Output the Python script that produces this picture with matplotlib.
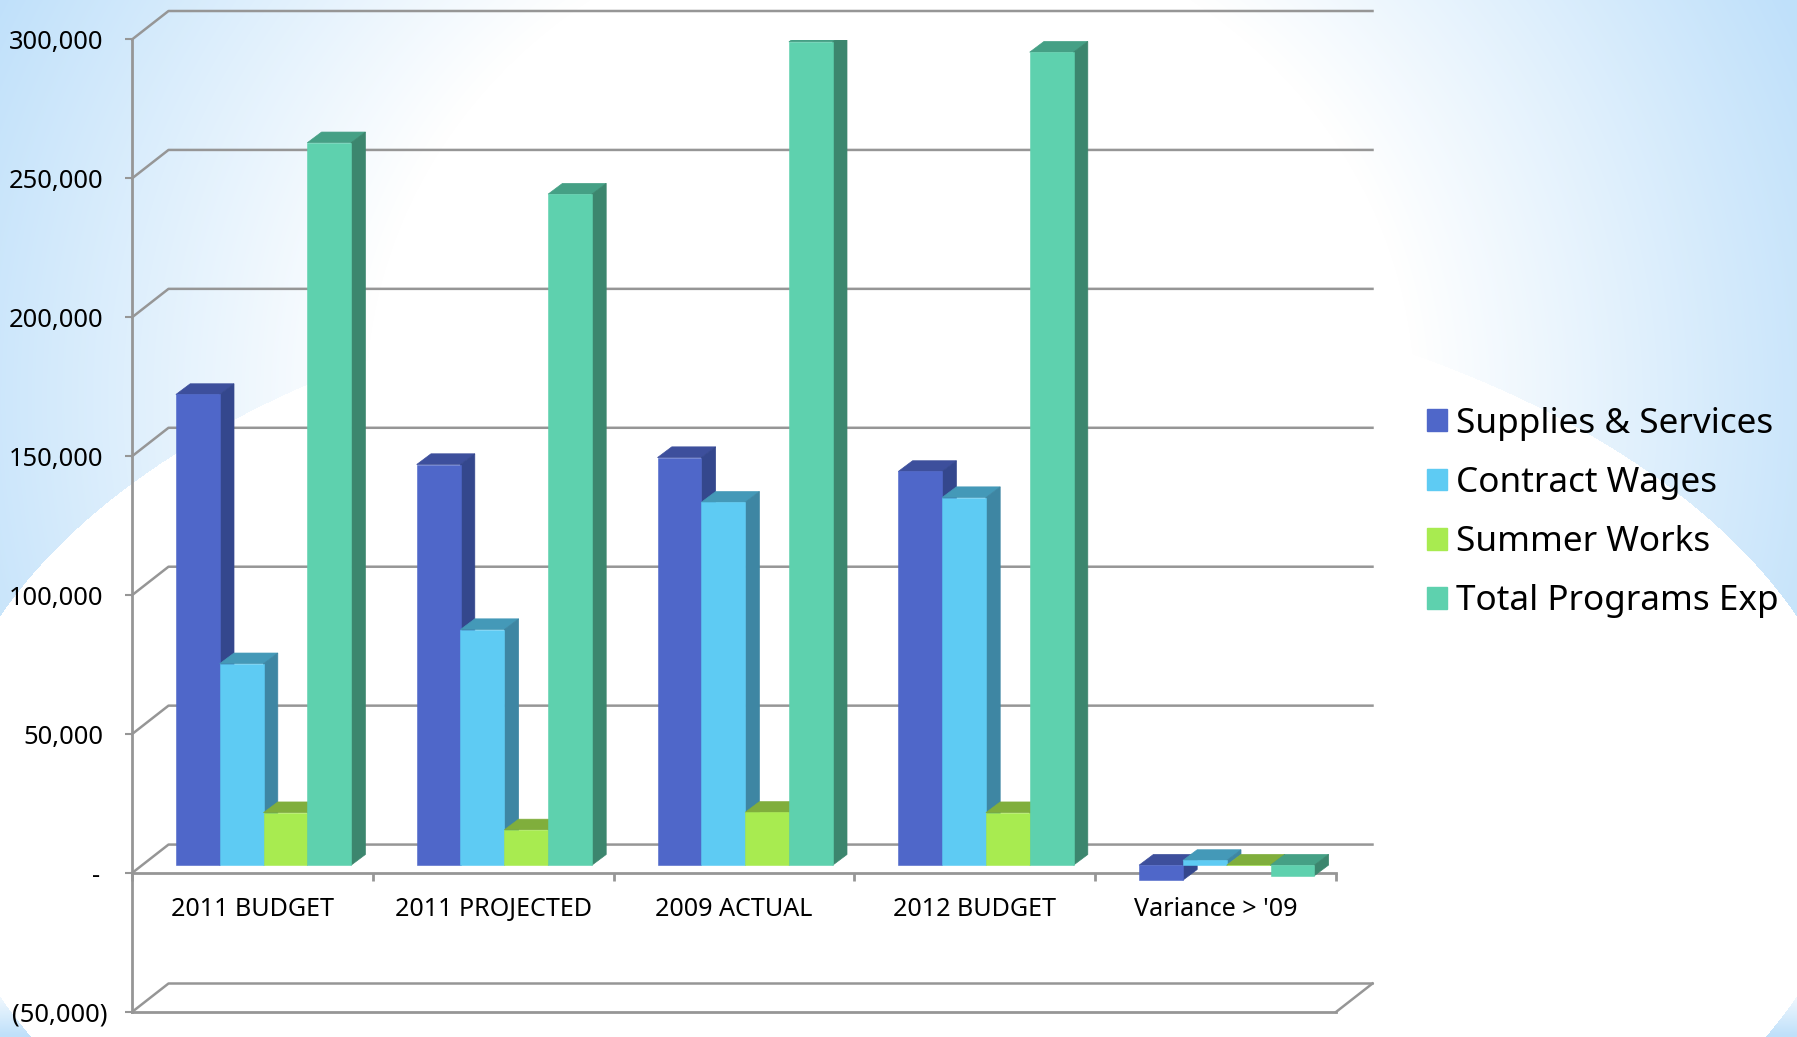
import numpy as np
import matplotlib
matplotlib.use("Agg")
import matplotlib.pyplot as plt
from matplotlib.patches import Patch

categories = ['2011 BUDGET', '2011 PROJECTED', '2009 ACTUAL', '2012 BUDGET', "Variance > '09"]
series_names = ['Supplies & Services', 'Contract Wages', 'Summer Works', 'Total Programs Exp']
supplies = [169400, 144200, 146700, 141700, -5400]
contract_wages = [72500, 84800, 130600, 132300, 1700]
summer_works = [18900, 12700, 19000, 18900, -100]
total_programs = [260000, 241500, 296300, 292600, -3800]
y_ticks = [-50000, 0, 50000, 100000, 150000, 200000, 250000, 300000]
y_labels = ['(50,000)', '-', '50,000', '100,000', '150,000', '200,000', '250,000', '300,000']

W, H = 1797, 1037

# front, top, side
colors = [
    ('#4f67c9', '#3d4f9c', '#34478d'),
    ('#5ecbf3', '#4499b8', '#3e86a3'),
    ('#a8eb50', '#80ae3c', '#7aa53a'),
    ('#5ed1ae', '#45a085', '#3c866e'),
]
grid_color = '#969696'

plt.rcParams['font.family'] = ['Noto Sans', 'DejaVu Sans']
fig = plt.figure(figsize=(W / 100, H / 100), dpi=100)

# background: radial blue fade, big white ellipse on top
yy, xx = np.mgrid[0:H, 0:W]
r = np.sqrt(((xx - 890) / 524.0) ** 2 + ((yy - 400) / 488.0) ** 2)
t = np.clip((r - 1) / 0.9, 0, 1)
# the two bottom corners fade downwards
low = yy > 806
t[low] = np.clip((yy[low] - 985) / 50.0, 0, 1)
blue = np.array([191, 224, 250]) / 255.0
bg = 1 - t[..., None] * (1 - blue)
ellipse = ((xx - 898) / 961.0) ** 2 + ((yy - 806) / 535.0) ** 2 <= 1
bg[ellipse] = 1
bg_ax = fig.add_axes([0, 0, 1, 1], zorder=-1)
bg_ax.imshow(bg, aspect='auto')
bg_ax.axis('off')

# front plane of the box in pixels
left, right, top, bottom = 132, 1336, 39.5, 1012
ax = fig.add_axes([left / W, 1 - bottom / H, (right - left) / W, (bottom - top) / H])
ax.patch.set_alpha(0)
ax.set_xlim(0, 5)
ax.set_ylim(-50000, 300000)
ax.set_axisbelow(True)

px_x = 5 / (right - left)
px_y = 350000 / (bottom - top)
wall_dx, wall_dy = 36.5 * px_x, 28.5 * px_y
bar_dx, bar_dy = 14.3 * px_x, 10.7 * px_y
shift_x, shift_y = (wall_dx - bar_dx) / 2, (wall_dy - bar_dy) / 2 - 1 * px_y

# walls
for v in y_ticks:
    ax.plot([0, wall_dx, 5 + wall_dx], [v, v + wall_dy, v + wall_dy], color=grid_color,
            lw=1.8, clip_on=False, zorder=0.5)
ax.plot([5, 5 + wall_dx], [-50000, -50000 + wall_dy], color=grid_color, lw=1.8, clip_on=False, zorder=0.5)
ax.plot([0, 5], [-50000, -50000], color=grid_color, lw=2, clip_on=False, zorder=0.5)

# bars
bar_w = 43.8 * px_x
values = [supplies, contract_wages, summer_works, total_programs]
for c in range(len(categories)):
    x0 = c + 0.5 + shift_x - 2 * bar_w
    for s in range(4):
        v = values[s][c]
        x = x0 + s * bar_w
        front, top_c, side = colors[s]
        y1 = shift_y + max(v, 0)
        y0 = shift_y + min(v, 0)
        ax.fill([x, x + bar_dx, x + bar_w + bar_dx, x + bar_w],
                [y1, y1 + bar_dy, y1 + bar_dy, y1], color=top_c, lw=0.5, zorder=1)
        ax.fill([x + bar_w, x + bar_w + bar_dx, x + bar_w + bar_dx, x + bar_w],
                [y0, y0 + bar_dy, y1 + bar_dy, y1], color=side, lw=0.5, zorder=1)
        ax.bar(x, v, bar_w, bottom=shift_y, align='edge', color=front, edgecolor=front, lw=0.4, zorder=1)

for name in ['top', 'right']:
    ax.spines[name].set_visible(False)
ax.spines['bottom'].set_position(('data', 0))
for name in ['left', 'bottom']:
    ax.spines[name].set_color(grid_color)
    ax.spines[name].set_linewidth(2)
    ax.spines[name].set_zorder(0.5)

ax.set_yticks(y_ticks, y_labels)
ax.tick_params(axis='y', length=5, width=1.5, color=grid_color, labelsize=18.4, pad=15.5)
ticks = ax.yaxis.get_major_ticks()
ticks[0].set_pad(12.5)
ticks[1].set_pad(18)

ax.set_xticks(range(6))
ax.set_xticklabels([])
ax.set_xticks(np.arange(5) + 0.5, categories, minor=True)
ax.tick_params(axis='x', which='major', length=6, width=2, color=grid_color)
ax.tick_params(axis='x', which='minor', length=0, labelsize=18.1, pad=17)

handles = [Patch(color=c[0]) for c in colors]
fig.legend(handles, series_names, loc='center left', bbox_to_anchor=(1427 / W, 1 - 512.5 / H),
           frameon=False, fontsize=25.3, handlelength=0.57, handleheight=0.57,
           handletextpad=0.26, labelspacing=0.72, borderpad=0, borderaxespad=0)

fig.savefig('out.png', dpi=100)
